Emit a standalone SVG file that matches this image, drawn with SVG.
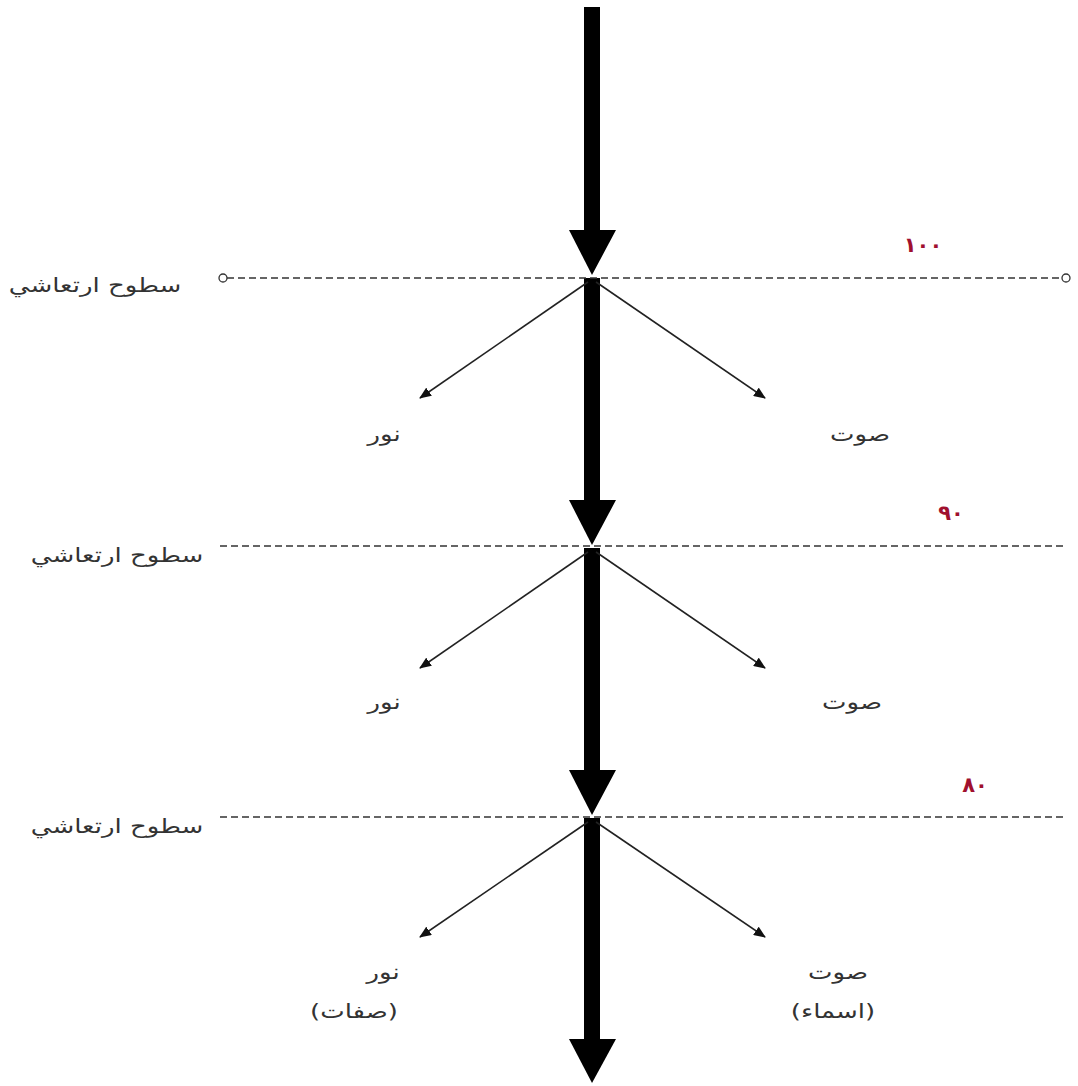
<svg xmlns="http://www.w3.org/2000/svg" width="1078" height="1086" viewBox="0 0 1078 1086">
<style>
.lbl{font-family:"DejaVu Sans","Noto Sans",sans-serif;font-size:20px;fill:#333;text-anchor:middle;}
.num{font-family:"DejaVu Sans","Noto Sans",sans-serif;font-size:21px;font-weight:bold;fill:#a0102e;text-anchor:middle;}
.dash{stroke:#333;stroke-width:1.6;stroke-dasharray:7 4;fill:none;}
.thin{stroke:#222;stroke-width:1.6;fill:none;marker-end:url(#ah);}
.bar{fill:#000;}
</style>
<defs>
<marker id="ah" viewBox="0 0 12 10" refX="11" refY="5" markerWidth="12" markerHeight="10" markerUnits="userSpaceOnUse" orient="auto">
<path d="M0,0 L12,5 L0,10 z" fill="#111"/>
</marker>
</defs>
<rect width="1078" height="1086" fill="#fff"/>
<g id="connectors">
<g id="main-flow">
<rect class="bar" x="584" y="7" width="16" height="225"/>
<polygon class="bar" points="569,230 616,230 592,275"/>
<rect class="bar" x="584" y="278" width="16" height="224"/>
<polygon class="bar" points="569,500 616,500 592,545"/>
<rect class="bar" x="584" y="548" width="16" height="224"/>
<polygon class="bar" points="569,770 616,770 592,815"/>
<rect class="bar" x="584" y="818" width="16" height="223"/>
<polygon class="bar" points="569,1039 616,1039 592,1083"/>
</g>
<line class="thin" x1="588" y1="282" x2="420" y2="398"/>
<line class="thin" x1="596" y1="282" x2="765" y2="398"/>
<line class="thin" x1="588" y1="552" x2="420" y2="668"/>
<line class="thin" x1="596" y1="552" x2="765" y2="668"/>
<line class="thin" x1="588" y1="822" x2="420" y2="937"/>
<line class="thin" x1="596" y1="822" x2="765" y2="937"/>
</g>
<g id="level-100">
<line class="dash" x1="227" y1="278" x2="1062" y2="278"/>
<circle cx="223" cy="278" r="4" fill="#fff" stroke="#333" stroke-width="1.3"/>
<circle cx="1066" cy="278" r="4" fill="#fff" stroke="#333" stroke-width="1.3"/>
<text class="lbl" transform="translate(95,292) scale(1.3,1)">سطوح ارتعاشي</text>
<text class="num" x="923" y="252">١٠٠</text>
</g>
<g id="level-90">
<line class="dash" x1="220" y1="546" x2="1064" y2="546"/>
<text class="lbl" transform="translate(117,562) scale(1.3,1)">سطوح ارتعاشي</text>
<text class="num" x="951" y="520">٩٠</text>
</g>
<g id="level-80">
<line class="dash" x1="220" y1="817" x2="1064" y2="817"/>
<text class="lbl" transform="translate(117,833) scale(1.3,1)">سطوح ارتعاشي</text>
<text class="num" x="975" y="792">٨٠</text>
</g>
<g id="light-1"><text class="lbl" transform="translate(384,441) scale(1.3,1)">نور</text></g>
<g id="sound-1"><text class="lbl" transform="translate(860,441) scale(1.3,1)">صوت</text></g>
<g id="light-2"><text class="lbl" transform="translate(384,709) scale(1.3,1)">نور</text></g>
<g id="sound-2"><text class="lbl" transform="translate(852,709) scale(1.3,1)">صوت</text></g>
<g id="light-3">
<text class="lbl" transform="translate(383,979) scale(1.3,1)">نور</text>
<text class="lbl" transform="translate(354,1018) scale(1.3,1)">(صفات)</text>
</g>
<g id="sound-3">
<text class="lbl" transform="translate(838,979) scale(1.3,1)">صوت</text>
<text class="lbl" transform="translate(833,1018) scale(1.3,1)">(اسماء)</text>
</g>
</svg>
